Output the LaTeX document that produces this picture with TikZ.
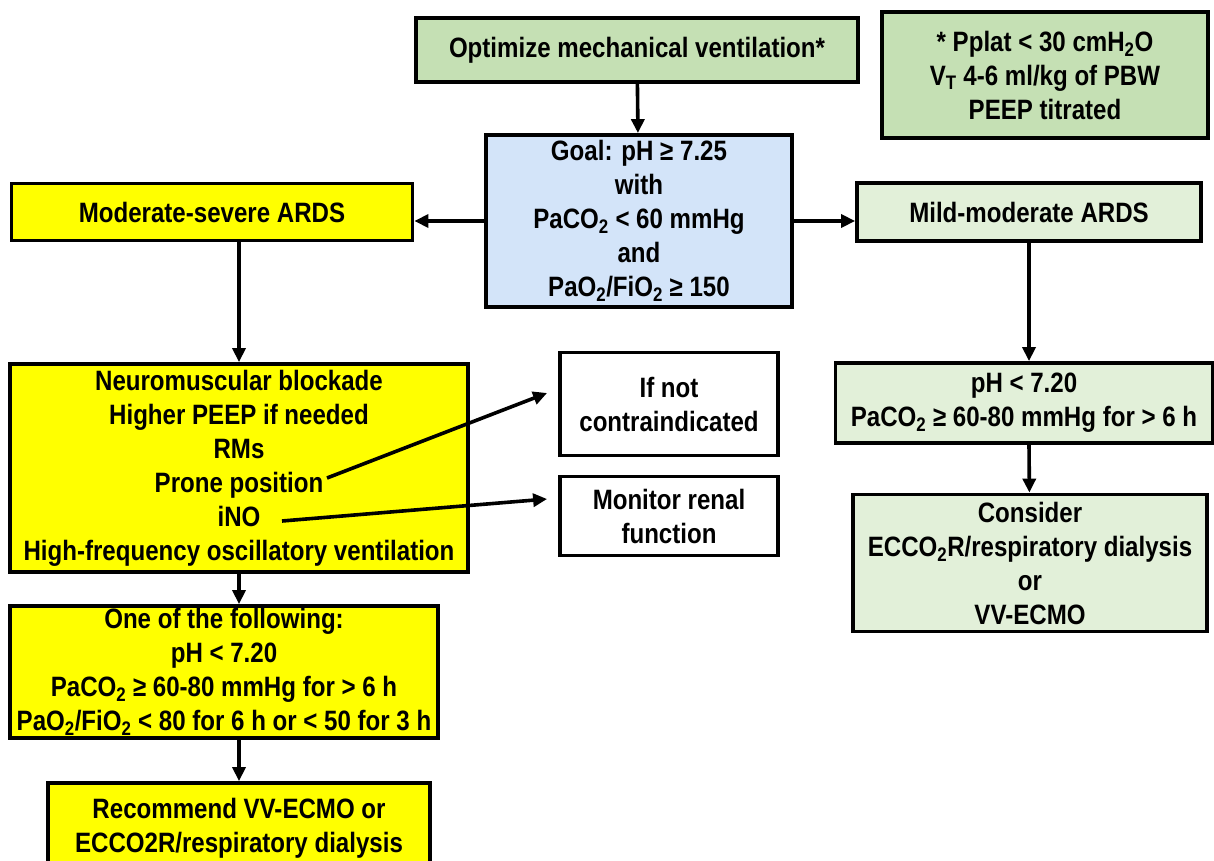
\documentclass[tikz,border=0pt]{standalone}
\usepackage{fontspec}
\setmainfont{Liberation Sans}[FakeStretch=0.86]
\usepackage{xcolor}
\usetikzlibrary{arrows.meta, positioning}

\definecolor{optgreen}{HTML}{C5E0B4}
\definecolor{mildgreen}{HTML}{E2F0D9}
\definecolor{goalblue}{HTML}{D3E4F9}
\definecolor{sevyellow}{HTML}{FFFF00}

\begin{document}
\begin{tikzpicture}[x=1pt, y=-1pt, ->, >={Triangle[length=14pt,width=13pt]}, line width=3.6pt]
  \tikzstyle{box} = [rectangle, draw, line width=3.8pt, align=center, inner sep=0pt, font=\fontsize{28}{34}\selectfont\bfseries]

  \clip (0,0) rectangle (1214,861);

  \node[box, fill=optgreen, minimum width=442pt, minimum height=64pt] (Opt) at (637,50) {Optimize mechanical ventilation*};
  \node[box, fill=optgreen, minimum width=326pt, minimum height=126pt] (Note) at (1045,75) {* Pplat < 30 cmH\textsubscript{2}O\\V\textsubscript{T} 4-6 ml/kg of PBW\\PEEP titrated};
  \node[box, fill=goalblue, minimum width=306pt, minimum height=172pt] (Goal) at (639,221) {Goal: pH ≥ 7.25\\with\\PaCO\textsubscript{2} < 60 mmHg\\and\\PaO\textsubscript{2}/FiO\textsubscript{2} ≥ 150};
  \node[box, fill=sevyellow, minimum width=401pt, minimum height=57pt] (Severe) at (212,212) {Moderate-severe ARDS};
  \node[box, fill=mildgreen, minimum width=344pt, minimum height=58pt] (Mild) at (1029,212) {Mild-moderate ARDS};

  \node[box, fill=sevyellow, minimum width=458pt, minimum height=208pt] (Neuro) at (239,468) {Neuromuscular blockade\\Higher PEEP if needed\\RMs\\Prone position\\iNO\\High-frequency oscillatory ventilation};
  \node[box, fill=white, minimum width=218pt, minimum height=103pt] (Contra) at (669,404) {If not\\contraindicated};
  \node[box, fill=white, minimum width=218pt, minimum height=79pt] (Renal) at (669,516) {Monitor renal\\function};
  \node[box, fill=sevyellow, minimum width=428pt, minimum height=132pt] (OneOf) at (224,672) {One of the following:\\pH < 7.20\\PaCO\textsubscript{2} ≥ 60-80 mmHg for > 6 h\\PaO\textsubscript{2}/FiO\textsubscript{2} < 80 for 6 h or < 50 for 3 h};
  \node[box, fill=sevyellow, minimum width=382pt, minimum height=90pt] (Recommend) at (239,828) {Recommend VV-ECMO or\\ECCO2R/respiratory dialysis};

  \node[box, fill=mildgreen, minimum width=377pt, minimum height=80pt] (Acid) at (1024,403) {pH < 7.20\\PaCO\textsubscript{2} ≥ 60-80 mmHg for > 6 h};
  \node[box, fill=mildgreen, minimum width=354pt, minimum height=137pt] (Consider) at (1030,563) {Consider\\ECCO\textsubscript{2}R/respiratory dialysis\\or\\VV-ECMO};

  % free ends next to the list items
  \coordinate (Prone) at (327,478);
  \coordinate (INO) at (282,521);

  \path
    (Opt) edge (Goal)
    (Goal.west) edge (Severe.east |- Goal.west)
    (Goal.east) edge (Mild.west |- Goal.east)
    (Severe.south -| Neuro.north) edge (Neuro)
    (Neuro) edge (OneOf.north -| Neuro.south)
    (OneOf.south -| Neuro.south) edge (Recommend)
    (Mild) edge (Acid.north -| Mild.south)
    (Acid.south -| Mild.south) edge (Consider)
    (Prone) edge ([xshift=-11pt, yshift=11pt]Contra.west)
    (INO) edge ([xshift=-11pt, yshift=17pt]Renal.west);
\end{tikzpicture}
\end{document}
